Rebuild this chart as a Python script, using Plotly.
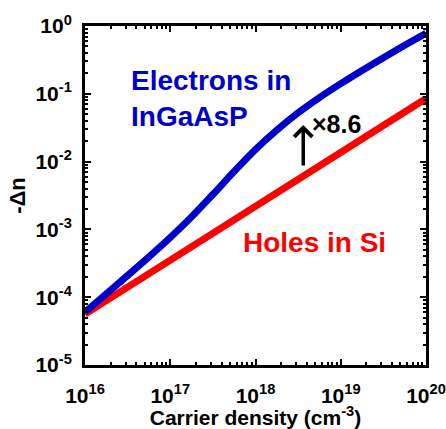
import plotly.graph_objects as go

# Data (log10 values)
carrier_log = [16.0, 16.25, 16.5, 16.75, 17.0, 17.25, 17.5, 17.75, 18.0,
               18.25, 18.5, 18.75, 19.0, 19.25, 19.5, 19.75, 20.0]
electrons_log_dn = [-4.22, -3.95, -3.68, -3.405, -3.12, -2.815, -2.485, -2.145, -1.82,
                    -1.535, -1.28, -1.055, -0.85, -0.655, -0.467, -0.285, -0.107]
holes_log_dn = [-4.25, -4.05, -3.86, -3.66, -3.47, -3.27, -3.07, -2.87, -2.67,
                -2.47, -2.27, -2.07, -1.87, -1.67, -1.47, -1.27, -1.07]

tick_exps_x = [16, 17, 18, 19, 20]
tick_exps_y = [-5, -4, -3, -2, -1, 0]

carrier = [10.0 ** v for v in carrier_log]
electrons = [10.0 ** v for v in electrons_log_dn]
holes = [10.0 ** v for v in holes_log_dn]

FONT = "Liberation Sans, Arial, sans-serif"
BLUE = "#0000CC"
RED = "#FF0000"

fig = go.Figure()
fig.add_trace(go.Scatter(x=carrier, y=holes, mode="lines",
                         line=dict(color=RED, width=7),
                         cliponaxis=False, showlegend=False))
fig.add_trace(go.Scatter(x=carrier, y=electrons, mode="lines",
                         line=dict(color=BLUE, width=7, shape="spline", smoothing=1.0),
                         cliponaxis=False, showlegend=False))


def minor_vals(exps):
    out = []
    for e in exps[:-1]:
        for m in range(2, 10):
            out.append(float(m) * 10.0 ** e)
    return out


def axis_common(exps):
    return dict(
        type="log", showgrid=False, zeroline=False, automargin=False,
        showline=True, linecolor="black", linewidth=3, mirror="allticks",
        ticks="inside", ticklen=6, tickwidth=2, tickcolor="black",
        tickmode="array",
        tickvals=[10.0 ** e for e in exps],
        ticktext=[f"<b>10<sup>{e}</sup></b>" for e in exps],
        tickfont=dict(family=FONT, size=21, color="black"),
        minor=dict(ticks="inside", ticklen=3, tickwidth=1.5, tickcolor="black",
                   showgrid=False, tickmode="array", tickvals=minor_vals(exps)),
    )


fig.update_xaxes(range=[16, 20], **axis_common(tick_exps_x), ticklabelstandoff=10,
                 title=dict(text="<b>Carrier density (cm<sup>-3</sup>)</b>",
                            font=dict(family=FONT, size=21, color="black"), standoff=0))
fig.update_yaxes(range=[-5, 0], **axis_common(tick_exps_y), ticklabelstandoff=6,
                 title=dict(text="<b>-Δn</b>",
                            font=dict(family=FONT, size=22, color="black"), standoff=4))

annots = [
    dict(x=16.52, y=-0.80, text="<b>Electrons in</b>", color=BLUE, size=28),
    dict(x=16.52, y=-1.33, text="<b>InGaAsP</b>", color=BLUE, size=28),
    dict(x=17.83, y=-3.20, text="<b>Holes in Si</b>", color=RED, size=28),
    dict(x=18.64, y=-1.44, text="<b>×8.6</b>", color="black", size=25),
]
for a in annots:
    fig.add_annotation(x=a["x"], y=a["y"], xref="x", yref="y", text=a["text"],
                       showarrow=False, xanchor="left", yanchor="middle",
                       font=dict(family=FONT, size=a["size"], color=a["color"]))

fig.add_annotation(x=18.56, y=-1.46, ax=18.56, ay=-2.08, xref="x", yref="y",
                   axref="x", ayref="y", text="", showarrow=True,
                   arrowhead=4, arrowsize=1, arrowwidth=3.5, arrowcolor="black")

fig.update_layout(width=446, height=429, margin=dict(l=85, r=20, t=26, b=64),
                  plot_bgcolor="white", paper_bgcolor="white",
                  font=dict(family=FONT, color="black"))

fig.write_html("out.html")
